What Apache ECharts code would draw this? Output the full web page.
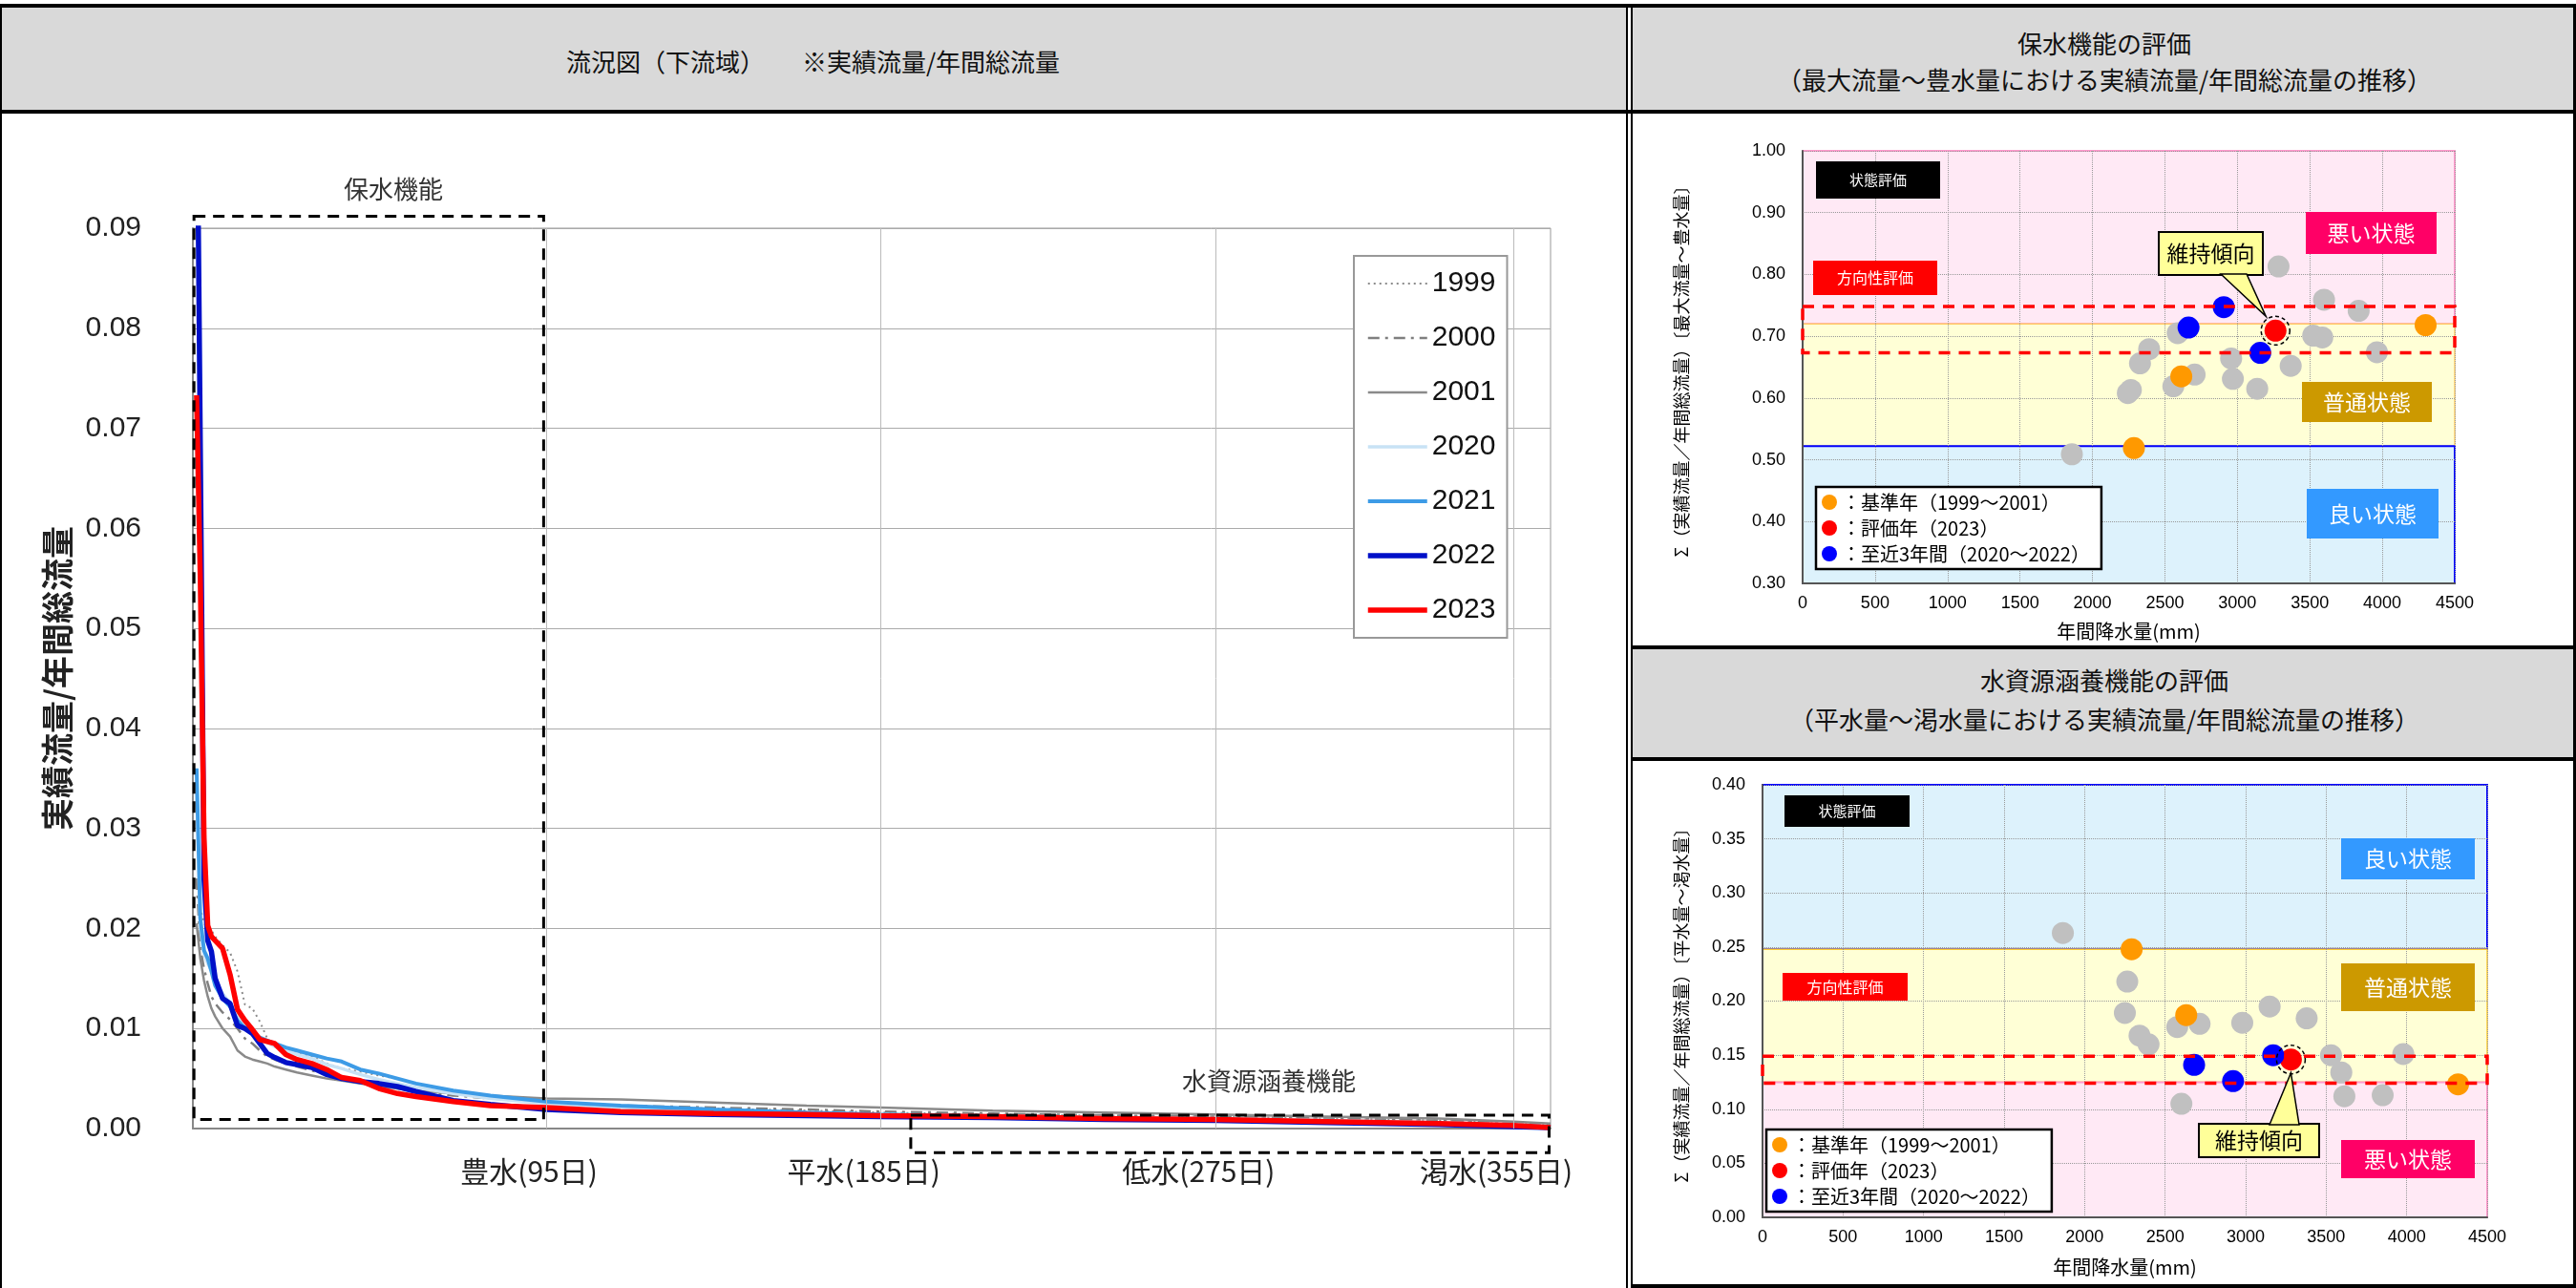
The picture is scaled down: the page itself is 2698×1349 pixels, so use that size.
<!DOCTYPE html>
<html>
<head>
<meta charset="utf-8">
<script src="https://cdn.jsdelivr.net/npm/echarts@6/dist/echarts.min.js"></script>
<style>
body{margin:0;background:#fff;font-family:"Noto Sans CJK JP",sans-serif;}
#page{position:relative;width:2698px;height:1349px;overflow:hidden;background:#fff;}
.hd{position:absolute;background:#d9d9d9;text-align:center;color:#111;font-size:26px;}
.ln{position:absolute;background:#000;}
.ch{position:absolute;}
</style>
</head>
<body>
<div id="page">
  <div class="hd" style="left:0;top:8px;width:1703px;height:108px;line-height:112px;">流況図（下流域）　　※実績流量/年間総流量</div>
  <div class="hd" style="left:1710px;top:8px;width:988px;height:90px;padding-top:18px;line-height:38px;">保水機能の評価<br>（最大流量～豊水量における実績流量/年間総流量の推移）</div>
  <div class="hd" style="left:1710px;top:680px;width:988px;height:102px;padding-top:11px;line-height:41px;">水資源涵養機能の評価<br>（平水量～渇水量における実績流量/年間総流量の推移）</div>

  <div class="ln" style="left:0;top:4px;width:2698px;height:4px;"></div>
  <div class="ln" style="left:0;top:115px;width:2698px;height:4px;"></div>
  <div class="ln" style="left:0;top:4px;width:2px;height:1345px;"></div>
  <div class="ln" style="left:1703px;top:4px;width:2px;height:1345px;"></div>
  <div class="ln" style="left:1708px;top:4px;width:2px;height:1345px;"></div>
  <div class="ln" style="left:2695px;top:4px;width:3px;height:1345px;"></div>
  <div class="ln" style="left:1708px;top:676px;width:990px;height:4px;"></div>
  <div class="ln" style="left:1708px;top:793px;width:990px;height:4px;"></div>
  <div class="ln" style="left:1708px;top:1345px;width:990px;height:4px;"></div>

  <div id="flow" class="ch" style="left:2px;top:120px;width:1701px;height:1229px;"></div>
  <div id="hosui" class="ch" style="left:1710px;top:120px;width:985px;height:556px;"></div>
  <div id="kanyo" class="ch" style="left:1710px;top:797px;width:985px;height:548px;"></div>
</div>

<script>
// ---- flow duration curves (days from the largest flow) ----
var flowDays = [1, 2, 3, 4, 5, 6, 8, 10, 12, 14, 16, 18, 20, 22, 25, 28, 32, 36, 40, 45, 50, 55, 60, 70, 80, 95, 115, 140, 165, 185, 215, 245, 275, 305, 335, 355, 365];
var flow1999 = [0.033, 0.022, 0.0205, 0.0202, 0.0198, 0.0192, 0.0183, 0.0176, 0.0157, 0.0124, 0.0120, 0.0107, 0.0090, 0.0082, 0.0078, 0.0075, 0.0072, 0.0065, 0.0060, 0.0057, 0.0053, 0.0050, 0.0045, 0.0037, 0.0031, 0.0025, 0.0022, 0.0020, 0.0018, 0.0016, 0.0014, 0.0013, 0.0012, 0.0010, 0.0008, 0.0006, 0.0004];
var flow2000 = [0.025, 0.018, 0.0160, 0.0145, 0.0132, 0.0125, 0.0116, 0.0109, 0.0100, 0.0090, 0.0085, 0.0078, 0.0072, 0.0069, 0.0065, 0.0062, 0.0058, 0.0054, 0.0051, 0.0047, 0.0043, 0.0040, 0.0037, 0.0033, 0.0030, 0.0026, 0.0023, 0.0021, 0.0019, 0.0017, 0.0015, 0.0013, 0.0012, 0.0010, 0.0008, 0.0006, 0.0004];
var flow2001 = [0.0205, 0.0170, 0.0148, 0.0132, 0.0120, 0.0112, 0.0100, 0.0092, 0.0078, 0.0072, 0.0069, 0.0067, 0.0065, 0.0062, 0.0059, 0.0056, 0.0053, 0.0050, 0.0048, 0.0045, 0.0042, 0.0040, 0.0038, 0.0035, 0.0033, 0.0030, 0.0029, 0.0026, 0.0023, 0.0021, 0.0018, 0.0016, 0.0014, 0.0012, 0.0010, 0.0007, 0.0005];
var flow2020 = [0.034, 0.020, 0.0175, 0.0165, 0.0158, 0.0148, 0.0135, 0.0125, 0.0112, 0.0103, 0.0096, 0.0090, 0.0086, 0.0082, 0.0078, 0.0074, 0.0070, 0.0064, 0.0060, 0.0054, 0.0049, 0.0045, 0.0041, 0.0035, 0.0030, 0.0025, 0.0021, 0.0018, 0.0016, 0.0014, 0.0013, 0.0011, 0.0010, 0.0008, 0.0006, 0.0004, 0.0002];
var flow2021 = [0.036, 0.021, 0.0178, 0.0170, 0.0157, 0.0143, 0.0130, 0.0122, 0.0108, 0.0100, 0.0095, 0.0091, 0.0088, 0.0085, 0.0081, 0.0078, 0.0074, 0.0070, 0.0067, 0.0059, 0.0055, 0.0050, 0.0045, 0.0038, 0.0033, 0.0027, 0.0023, 0.0019, 0.0016, 0.0014, 0.0012, 0.0010, 0.0009, 0.0007, 0.0005, 0.0003, 0.0001];
var flow2022 = [0.11, 0.068, 0.025, 0.0188, 0.0177, 0.0150, 0.0130, 0.0125, 0.0103, 0.0100, 0.0095, 0.0085, 0.0075, 0.0071, 0.0066, 0.0064, 0.0061, 0.0054, 0.0050, 0.0047, 0.0045, 0.0042, 0.0037, 0.0028, 0.0024, 0.0019, 0.0016, 0.0014, 0.0013, 0.0012, 0.0011, 0.0009, 0.0008, 0.0006, 0.0004, 0.0002, 0.0001];
var flow2023 = [0.0733, 0.055, 0.029, 0.0203, 0.0192, 0.0188, 0.0180, 0.0154, 0.0119, 0.0108, 0.0099, 0.0089, 0.0087, 0.0085, 0.0074, 0.0069, 0.0065, 0.0059, 0.0051, 0.0048, 0.0040, 0.0035, 0.0032, 0.0027, 0.0023, 0.0021, 0.0017, 0.0015, 0.0014, 0.0013, 0.0012, 0.0010, 0.0009, 0.0007, 0.0005, 0.0003, 0.0001];
var flowTickDays = [95, 185, 275, 355];
var flowTickLabels = ['豊水(95日)', '平水(185日)', '低水(275日)', '渇水(355日)'];

// ---- evaluation scatter: [annual rainfall mm, ratio] ----
var hosuiGray = [[3284, 0.813], [3598, 0.759], [3837, 0.741], [3523, 0.701], [3586, 0.698], [3963, 0.674], [2957, 0.664], [3368, 0.652], [2969, 0.631], [3137, 0.615], [2588, 0.705], [2391, 0.679], [2328, 0.656], [2705, 0.638], [2558, 0.619], [2244, 0.608], [2265, 0.613], [1858, 0.509]];
var hosuiBase = [[4299, 0.718], [2613, 0.635], [2286, 0.519]];
var hosuiEval = [[3263, 0.709]];
var hosuiRecent = [[2906, 0.747], [2663, 0.714], [3158, 0.673]];
var hosuiBands = [1.00, 0.72, 0.522, 0.30];
var hosuiTrend = [0.748, 0.673];

var kanyoGray = [[1865, 0.263], [2265, 0.218], [2250, 0.189], [2341, 0.168], [2397, 0.160], [2575, 0.176], [2714, 0.179], [2979, 0.180], [3149, 0.195], [3379, 0.184], [3530, 0.150], [3594, 0.134], [3613, 0.112], [3851, 0.113], [3979, 0.151], [2601, 0.105]];
var kanyoBase = [[2292, 0.248], [2631, 0.187], [4319, 0.123]];
var kanyoEval = [[3281, 0.146]];
var kanyoRecent = [[3171, 0.150], [2680, 0.141], [2922, 0.126]];
var kanyoBands = [0.40, 0.248, 0.125, 0.00];
var kanyoTrend = [0.149, 0.124];

var legendNames = ['基準年（1999～2001）', '評価年（2023）', '至近3年間（2020～2022）'];

var CJK = '"Noto Sans CJK JP", sans-serif';
var NUM = '"Liberation Sans", Arial, sans-serif';

// line look per year (legend reuses it)
var flowStyles = {
  '1999': {color: '#8c8c8c', width: 2, type: [2, 4]},
  '2000': {color: '#7f7f7f', width: 2.5, type: [12, 6, 3, 6]},
  '2001': {color: '#8a8a8a', width: 2.5},
  '2020': {color: '#c8e2f5', width: 3.5},
  '2021': {color: '#3d9be6', width: 4},
  '2022': {color: '#0010c8', width: 5.5},
  '2023': {color: '#ff0000', width: 5.5}
};

function pairs(arr){
  return flowDays.map(function(d, i){ return [d, arr[i]]; });
}

function lineSeries(name, arr){
  var ls = flowStyles[name];
  return {name: name, type: 'line', data: pairs(arr), symbol: 'none', lineStyle: ls,
    itemStyle: {color: ls.color}, silent: true};
}

function dashRect(chart, a, b){
  var p1 = chart.convertToPixel({gridIndex: 0}, a);
  var p2 = chart.convertToPixel({gridIndex: 0}, b);
  return {type: 'rect', z: 50,
    shape: {x: p1[0], y: p1[1], width: p2[0] - p1[0], height: p2[1] - p1[1]},
    style: {fill: 'none', stroke: '#000', lineWidth: 3, lineDash: [12, 8]}};
}

function txt(x, y, s, size, color, font){
  return {type: 'text', z: 60, x: x, y: y,
    style: {text: s, fill: color, font: size + 'px ' + (font || CJK),
      align: 'center', verticalAlign: 'middle', textAlign: 'center', textVerticalAlign: 'middle'}};
}

function box(x, y, w, h, fill, s, size, color, stroke){
  return [
    {type: 'rect', z: 55, shape: {x: x, y: y, width: w, height: h},
      style: {fill: fill, stroke: stroke || null, lineWidth: stroke ? 2 : 0}},
    txt(x + w / 2, y + h / 2, s, size, color)
  ];
}

// ---------------- left: flow duration chart ----------------
var flowChart = echarts.init(document.getElementById('flow'));
flowChart.setOption({
  animation: false,
  grid: {left: 200, top: 119, width: 1422, height: 943, show: true, borderColor: '#999', borderWidth: 1},
  legend: {
    orient: 'vertical', left: 1416, top: 148,
    padding: [14, 12, 14, 12], itemWidth: 62, itemHeight: 30, itemGap: 27,
    backgroundColor: '#fff', borderColor: '#999', borderWidth: 2,
    itemStyle: {opacity: 0},
    textStyle: {fontSize: 30, fontFamily: NUM, color: '#111'},
    data: Object.keys(flowStyles).map(function(k){
      return {name: k, lineStyle: {width: flowStyles[k].width, type: flowStyles[k].type || 'solid', color: flowStyles[k].color}};
    })
  },
  xAxis: {
    type: 'value', min: 0, max: 365,
    axisLine: {lineStyle: {color: '#888', width: 2}},
    axisTick: {show: false},
    splitLine: {show: false},
    axisLabel: {
      customValues: flowTickDays, fontSize: 30, fontFamily: CJK, color: '#222', margin: 30,
      padding: [0, 36, 0, 0],
      formatter: function(v){ return flowTickLabels[flowTickDays.indexOf(v)] || ''; }
    }
  },
  yAxis: {
    type: 'value', min: 0, max: 0.09, interval: 0.01,
    name: '実績流量/年間総流量', nameLocation: 'middle', nameGap: 125,
    nameTextStyle: {fontSize: 34, fontFamily: CJK, color: '#222', fontWeight: 'bold'},
    axisLine: {show: true, lineStyle: {color: '#888', width: 2}},
    axisTick: {show: false},
    splitLine: {lineStyle: {color: '#aaa', width: 1}},
    axisLabel: {fontSize: 30, fontFamily: NUM, color: '#222', margin: 54,
      formatter: function(v){ return v.toFixed(2); }}
  },
  series: [
    (function(){
      var s = lineSeries('1999', flow1999);
      s.markLine = {silent: true, symbol: 'none', label: {show: false},
        lineStyle: {color: '#bbb', width: 1, type: 'solid'},
        data: flowTickDays.map(function(d){ return {xAxis: d}; })};
      return s;
    })(),
    lineSeries('2000', flow2000),
    lineSeries('2001', flow2001),
    lineSeries('2020', flow2020),
    lineSeries('2021', flow2021),
    lineSeries('2022', flow2022),
    lineSeries('2023', flow2023)
  ]
});
flowChart.setOption({graphic: [
  dashRect(flowChart, [0.3, 0.0912], [94.3, 0.0009]),
  dashRect(flowChart, [193, 0.00133], [364.6, -0.0024]),
  txt(410, 78, '保水機能', 26, '#333'),
  txt(1327, 1012, '水資源涵養機能', 26, '#333')
]});

// ---------------- right: scatter evaluations ----------------
function scatterOption(c){
  var b = c.bands;
  return {
    animation: false,
    grid: c.grid,
    legend: {
      orient: 'vertical', left: c.legendPos[0], top: c.legendPos[1],
      padding: [6, 12, 6, 6], itemWidth: 16, itemHeight: 20, itemGap: 7, icon: 'circle',
      backgroundColor: '#fff', borderColor: '#000', borderWidth: 2.5,
      textStyle: {fontSize: 20, fontFamily: CJK, color: '#000'},
      formatter: function(n){ return '：' + n; },
      data: legendNames
    },
    xAxis: {
      type: 'value', min: 0, max: 4500, interval: 500,
      name: '年間降水量(mm)', nameLocation: 'middle', nameGap: c.xNameGap,
      nameTextStyle: {fontSize: 20, fontFamily: CJK, color: '#000'},
      axisLine: {lineStyle: {color: '#555', width: 2}},
      axisTick: {show: false},
      splitLine: {lineStyle: {color: '#999', type: 'dotted'}},
      axisLabel: {fontSize: 18, fontFamily: NUM, color: '#000', margin: 12,
        formatter: function(v){ return String(v); }}
    },
    yAxis: {
      type: 'value', min: c.yMin, max: c.yMax, interval: c.yStep,
      name: c.yName, nameLocation: 'middle', nameGap: c.yNameGap,
      nameTextStyle: {fontSize: 18, fontFamily: CJK, color: '#000'},
      axisLine: {show: true, lineStyle: {color: '#555', width: 2}},
      axisTick: {show: false},
      splitLine: {lineStyle: {color: '#999', type: 'dotted'}},
      axisLabel: {fontSize: 18, fontFamily: NUM, color: '#000', margin: 18,
        formatter: function(v){ return v.toFixed(2); }}
    },
    series: [
      {type: 'scatter', data: [], silent: true,
        markArea: {silent: true, z: -1, data: [
          [{coord: [0, b[0]], itemStyle: {color: c.colors[0], borderColor: c.borders[0], borderWidth: 2}}, {coord: [4500, b[1]]}],
          [{coord: [0, b[1]], itemStyle: {color: c.colors[1], borderColor: c.borders[1], borderWidth: 1.5}}, {coord: [4500, b[2]]}],
          [{coord: [0, b[2]], itemStyle: {color: c.colors[2], borderColor: c.borders[2], borderWidth: 2}}, {coord: [4500, b[3]]}]
        ]}},
      {name: 'gray', type: 'scatter', data: c.gray, symbolSize: 23, z: 3,
        itemStyle: {color: '#c0c0c0', opacity: 1}},
      {name: legendNames[0], type: 'scatter', data: c.base, symbolSize: 23, z: 4,
        itemStyle: {color: '#ff9900', opacity: 1}},
      {name: legendNames[1], type: 'scatter', data: c.evalYear, symbolSize: 23, z: 5,
        itemStyle: {color: '#ff0000', opacity: 1}},
      {name: legendNames[2], type: 'scatter', data: c.recent, symbolSize: 23, z: 5,
        itemStyle: {color: '#0000ff', opacity: 1}},
      {type: 'scatter', data: c.evalYear, symbolSize: 30, z: 6, silent: true,
        itemStyle: {color: 'rgba(0,0,0,0)', borderColor: '#000', borderWidth: 1.5, borderType: [4, 3], opacity: 1}},
      {type: 'scatter', data: [], silent: true, z: 8,
        markArea: {silent: true, z: 8, data: [
          [{coord: [c.trendLeft, c.trend[0]], itemStyle: {color: 'rgba(0,0,0,0)', borderColor: '#ff0000', borderWidth: 3.5, borderType: [12, 9]}},
           {coord: [4500, c.trend[1]]}]
        ]}}
    ]
  };
}

var bandColors = {pink: '#ffe9f5', yellow: '#ffffd6', blue: '#ddf2fc'};

var hosuiChart = echarts.init(document.getElementById('hosui'));
hosuiChart.setOption(scatterOption({
  grid: {left: 178, right: 124, top: 38, bottom: 64},
  legendPos: [192, 390],
  yMin: 0.3, yMax: 1.0, yStep: 0.1, yNameGap: 118, xNameGap: 40,
  yName: 'Σ（実績流量／年間総流量）〔最大流量～豊水量〕',
  bands: hosuiBands, trend: hosuiTrend, trendLeft: 0,
  colors: [bandColors.pink, bandColors.yellow, bandColors.blue],
  borders: ['#ff99cc', '#ffcc66', '#0000ff'],
  gray: hosuiGray, base: hosuiBase, evalYear: hosuiEval, recent: hosuiRecent
}));

var kanyoChart = echarts.init(document.getElementById('kanyo'));
kanyoChart.setOption(scatterOption({
  grid: {left: 136, right: 90, top: 25, bottom: 70},
  legendPos: [140, 386],
  yMin: 0, yMax: 0.4, yStep: 0.05, yNameGap: 76, xNameGap: 42,
  yName: 'Σ（実績流量／年間総流量）〔平水量～渇水量〕',
  bands: kanyoBands, trend: kanyoTrend, trendLeft: -30,
  colors: [bandColors.blue, bandColors.yellow, bandColors.pink],
  borders: ['#0000ff', '#ffcc33', '#ff99cc'],
  gray: kanyoGray, base: kanyoBase, evalYear: kanyoEval, recent: kanyoRecent
}));

// annotation boxes and callouts
var hp = hosuiChart.convertToPixel({gridIndex: 0}, hosuiEval[0]);
hosuiChart.setOption({graphic: [].concat(
  box(192, 49, 130, 39, '#000', '状態評価', 15, '#fff'),
  box(189, 153, 130, 36, '#ff0000', '方向性評価', 16, '#fff'),
  box(705, 102, 137, 44, '#ff0066', '悪い状態', 23, '#fff'),
  box(701, 280, 136, 42, '#cc9900', '普通状態', 23, '#fff'),
  box(706, 392, 138, 52, '#3399ff', '良い状態', 23, '#fff'),
  box(551, 123, 109, 45, '#ffff99', '維持傾向', 23, '#000', '#000'),
  [{type: 'polygon', z: 56, shape: {points: [[616, 167], [hp[0] - 10, hp[1] - 15], [643, 167]]},
    style: {fill: '#ffff99', stroke: '#000', lineWidth: 1.5}}]
)});

var kp = kanyoChart.convertToPixel({gridIndex: 0}, kanyoEval[0]);
kanyoChart.setOption({graphic: [].concat(
  box(159, 36, 131, 33, '#000', '状態評価', 15, '#fff'),
  box(157, 222, 131, 29, '#ff0000', '方向性評価', 16, '#fff'),
  box(742, 81, 140, 43, '#3399ff', '良い状態', 23, '#fff'),
  box(742, 212, 140, 50, '#cc9900', '普通状態', 23, '#fff'),
  box(742, 397, 140, 40, '#ff0066', '悪い状態', 23, '#fff'),
  box(593, 380, 126, 35, '#ffff99', '維持傾向', 23, '#000', '#000'),
  [{type: 'polygon', z: 56, shape: {points: [[667, 381], [kp[0], kp[1] + 14], [698, 381]]},
    style: {fill: '#ffff99', stroke: '#000', lineWidth: 1.5}}]
)});
</script>
</body>
</html>
